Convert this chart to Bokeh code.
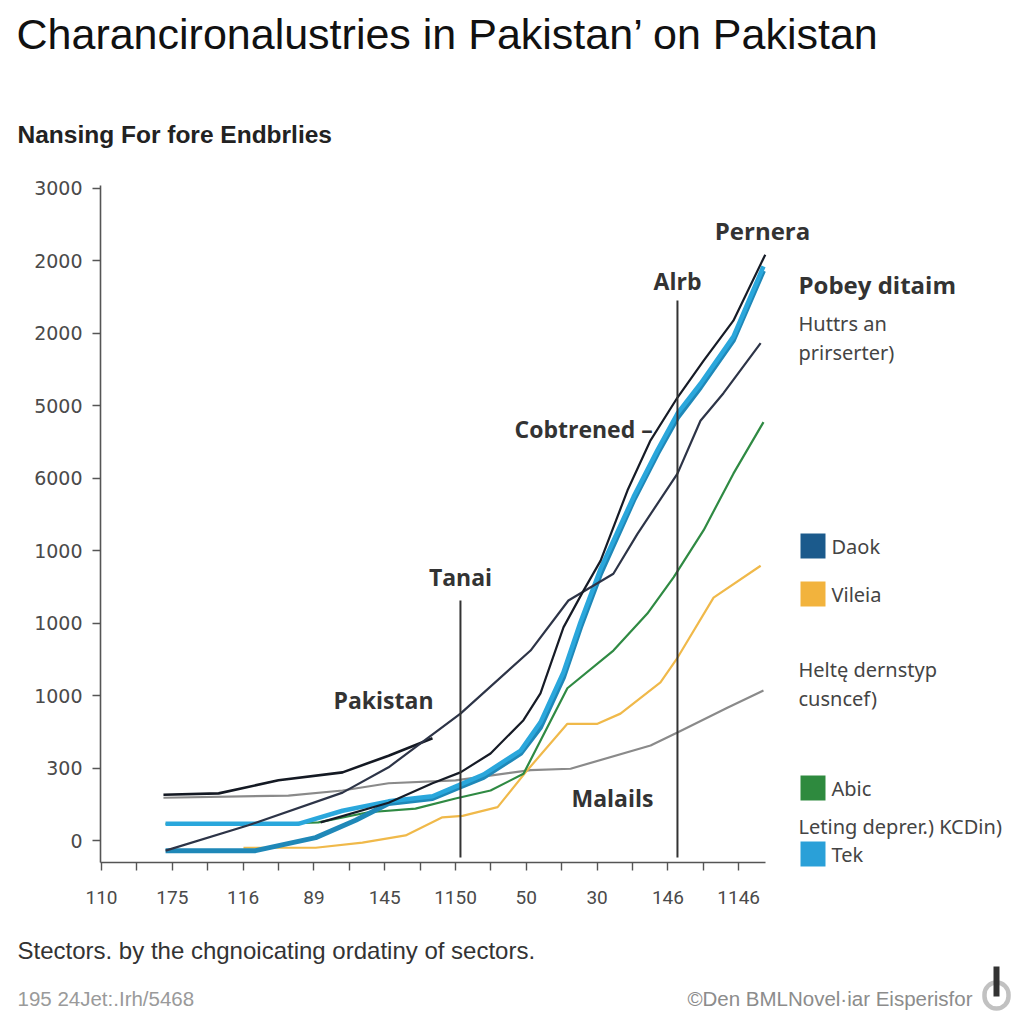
from bokeh.plotting import figure
from bokeh.models import Label, FixedTicker, BoxAnnotation, Range1d
from bokeh.embed import file_html
from bokeh.resources import INLINE

# ---------------- data (axis index units) ----------------
x_tick_labels = ["110", "175", "116", "89", "145", "1150", "50", "30", "146", "1146"]
y_tick_labels = ["0", "300", "1000", "1000", "1000", "6000", "5000", "2000", "2000", "3000"]

pernera_x = [6.19, 8.11, 9.35, 10.14, 10.99, 11.92, 12.40, 13.05, 13.62, 14.10, 14.86, 15.51, 16.27, 17.01, 17.85, 18.75]
pernera_y = [0.25, 0.52, 0.79, 0.94, 1.20, 1.66, 2.03, 2.94, 3.45, 3.86, 4.83, 5.52, 6.11, 6.62, 7.17, 8.08]

main_x = [1.81, 4.15, 6.81, 8.11, 10.14, 12.12, 13.19, 14.46, 15.14, 16.27, 16.92, 17.57, 18.62]
main_y = [-0.14, 0.21, 0.66, 1.01, 1.75, 2.62, 3.31, 3.68, 4.23, 5.06, 5.79, 6.17, 6.86]

pakistan_x = [1.75, 3.31, 5.00, 6.81, 8.11, 9.35]
pakistan_y = [0.63, 0.65, 0.83, 0.94, 1.17, 1.41]

malails_x = [1.75, 5.28, 6.81, 8.11, 10.00, 12.12, 13.25, 15.51, 16.27, 17.68, 18.70]
malails_y = [0.59, 0.62, 0.69, 0.79, 0.83, 0.97, 0.99, 1.31, 1.49, 1.83, 2.07]

daok_x = [1.81, 4.35, 6.05, 7.18, 8.11, 9.35, 10.08, 10.79, 11.84, 12.40, 13.05, 13.53, 14.10, 15.03, 15.71, 16.27, 16.92, 17.85, 18.70]
daok_y = [-0.14, -0.14, 0.04, 0.28, 0.51, 0.58, 0.73, 0.87, 1.20, 1.56, 2.25, 2.94, 3.68, 4.69, 5.34, 5.83, 6.25, 6.90, 7.86]

tek_x = [1.81, 5.56, 6.81, 8.11, 9.35, 10.08, 10.79, 11.84, 12.40, 13.05, 13.53, 14.10, 15.03, 15.71, 16.27, 16.92, 17.85, 18.70]
tek_y = [0.23, 0.23, 0.41, 0.54, 0.61, 0.76, 0.91, 1.24, 1.63, 2.32, 3.01, 3.75, 4.74, 5.39, 5.89, 6.30, 6.95, 7.92]

abic_x = [1.81, 4.83, 6.13, 7.54, 8.87, 10.00, 10.99, 11.92, 13.16, 14.46, 15.42, 16.16, 17.01, 17.85, 18.70]
abic_y = [0.23, 0.23, 0.25, 0.39, 0.44, 0.58, 0.69, 0.92, 2.10, 2.62, 3.13, 3.63, 4.28, 5.06, 5.77]

vileia_x = [4.01, 6.05, 7.37, 8.59, 9.63, 10.20, 11.19, 12.03, 13.16, 14.01, 14.66, 15.79, 16.27, 17.29, 18.62]
vileia_y = [-0.10, -0.10, -0.03, 0.07, 0.32, 0.34, 0.46, 0.97, 1.61, 1.61, 1.75, 2.18, 2.52, 3.35, 3.79]

marker_names = ["Tanai", "Alrb"]
marker_x = [10.14, 16.27]
marker_top = [3.31, 7.45]

legend_names = ["Daok", "Vileia", "Abic", "Tek"]

# ---------------- layout constants (page pixels) ----------------
W, H = 1016, 1016
PX0, PX_PER = 101.0, 35.4     # page x of index 0, pixels per x unit
PY0, PY_PER = 840.0, 72.5     # page y of index 0, pixels per y unit


def dx(px):
    return (px - PX0) / PX_PER


def dy(py):
    return (PY0 - py) / PY_PER


p = figure(width=W, height=H, output_backend="svg", toolbar_location=None,
           x_range=Range1d(dx(0), dx(W)), y_range=Range1d(dy(H), dy(0)),
           min_border=0, min_border_left=0, min_border_right=0,
           min_border_top=0, min_border_bottom=0)
p.outline_line_color = None
p.xgrid.visible = False
p.ygrid.visible = False
p.background_fill_color = "#ffffff"
p.border_fill_color = "#ffffff"

# axes placed inside the frame
xa, ya = p.xaxis[0], p.yaxis[0]
xa.fixed_location = dy(862)
xa.bounds = (dx(100), dx(765))
ya.fixed_location = dx(100)
ya.bounds = (dy(862), dy(185))
xa.ticker = FixedTicker(ticks=[2 * i for i in range(len(x_tick_labels))],
                        minor_ticks=[2 * i + 1 for i in range(len(x_tick_labels) - 1)])
xa.major_label_overrides = {2 * i: t for i, t in enumerate(x_tick_labels)}
ya.ticker = FixedTicker(ticks=list(range(len(y_tick_labels))), minor_ticks=[])
ya.major_label_overrides = {i: t for i, t in enumerate(y_tick_labels)}
for ax in (xa, ya):
    ax.axis_line_color = "#555555"
    ax.axis_line_width = 1.6
    ax.major_tick_line_color = "#555555"
    ax.major_tick_line_width = 1.4
    ax.major_tick_in = 0
    ax.major_tick_out = 8
    ax.major_label_text_color = "#4a4a4a"
xa.minor_tick_line_color = "#555555"
xa.minor_tick_line_width = 1.4
xa.minor_tick_in = 0
xa.minor_tick_out = 8
xa.major_label_text_font = "Roboto"
xa.major_label_text_font_size = "19px"
xa.major_label_standoff = 20
ya.major_label_text_font = "DejaVu Sans"
ya.major_label_text_font_size = "19px"
ya.major_label_standoff = 10

# lines
p.line(malails_x, malails_y, line_color="#8a8a8a", line_width=2.2)
p.line(vileia_x, vileia_y, line_color="#f0b94a", line_width=2.2)
p.line(abic_x, abic_y, line_color="#2f8a43", line_width=2.2)
p.line(daok_x, daok_y, line_color="#1f88b8", line_width=5)
p.line(tek_x, tek_y, line_color="#2aa7dc", line_width=4.5)
p.line(pakistan_x, pakistan_y, line_color="#141923", line_width=2.6)
p.line(main_x, main_y, line_color="#2d3447", line_width=2.2)
p.line(pernera_x, pernera_y, line_color="#161b26", line_width=2.2)

# vertical markers
for mx, mt in zip(marker_x, marker_top):
    p.segment(x0=[mx], y0=[mt], x1=[mx], y1=[dy(857)], line_color="#333333", line_width=2)


# ---------------- texts ----------------
def lab(px, py, text, size, font="Liberation Sans", style="normal", color="#222222", align="left"):
    p.add_layout(Label(x=dx(px), y=dy(py), text=text, text_font=font, text_font_size=size,
                       text_font_style=style, text_color=color, text_align=align,
                       text_baseline="middle"))


lab(16, 33, "Charancironalustries in Pakistan\u2019 on Pakistan", "43px", color="#111111")
lab(17, 134, "Nansing For fore Endbrlies", "24.5px", style="bold", color="#222222")

ann_font = "Open Sans"
AS = "23px"
lab(762, 230, "Pernera", "24px", ann_font, "bold", "#333333", "center")
lab(677, 280, marker_names[1], AS, ann_font, "bold", "#333333", "center")
lab(514, 428, "Cobtrened \u2013", AS, ann_font, "bold", "#333333", "left")
lab(460, 576, marker_names[0], AS, ann_font, "bold", "#333333", "center")
lab(383, 699, "Pakistan", AS, ann_font, "bold", "#333333", "center")
lab(612, 797, "Malails", AS, ann_font, "bold", "#333333", "center")

lab(798, 284, "Pobey ditaim", "24px", ann_font, "bold", "#333333")
rt = "Noto Sans"
RS = "20px"
lab(798, 323, "Huttrs an", RS, rt, "normal", "#444444")
lab(798, 352, "prirserter)", RS, rt, "normal", "#444444")
lab(798, 669, "Helt\u0119 dernstyp", RS, rt, "normal", "#444444")
lab(798, 698, "cusncef)", RS, rt, "normal", "#444444")
lab(798, 826, "Leting deprer.) KCDin)", RS, rt, "normal", "#444444")

legend_colors = ["#1b5a8c", "#f2b33d", "#2e8a3e", "#2aa0d8"]
legend_tops = [533, 581, 775, 841]
for name, col, top in zip(legend_names, legend_colors, legend_tops):
    p.add_layout(BoxAnnotation(left=dx(800), right=dx(825), top=dy(top), bottom=dy(top + 25),
                               fill_color=col, fill_alpha=1, line_color=None))
    lab(831, top + 12.5, name, RS, rt, "normal", "#444444")

lab(17, 950, "Stectors. by the chgnoicating ordatiny of sectors.", "24px", color="#333333")
lab(17, 998, "195 24Jet:.Irh/5468", "20.5px", color="#9a9a9a")
lab(972, 998, "\u00a9Den BMLNovel\u00b7iar Eisperisfor", "20.5px", color="#8c8c8c", align="right")

# small power-like icon
p.add_layout(BoxAnnotation(left=dx(984), right=dx(1008), top=dy(982), bottom=dy(1008),
                           fill_color=None, line_color="#333333", line_width=4.5,
                           border_radius=13))
p.add_layout(BoxAnnotation(left=dx(993), right=dx(999), top=dy(966), bottom=dy(996),
                           fill_color="#333333", fill_alpha=1, line_color=None))

open("out.html", "w").write(file_html(p, INLINE))
